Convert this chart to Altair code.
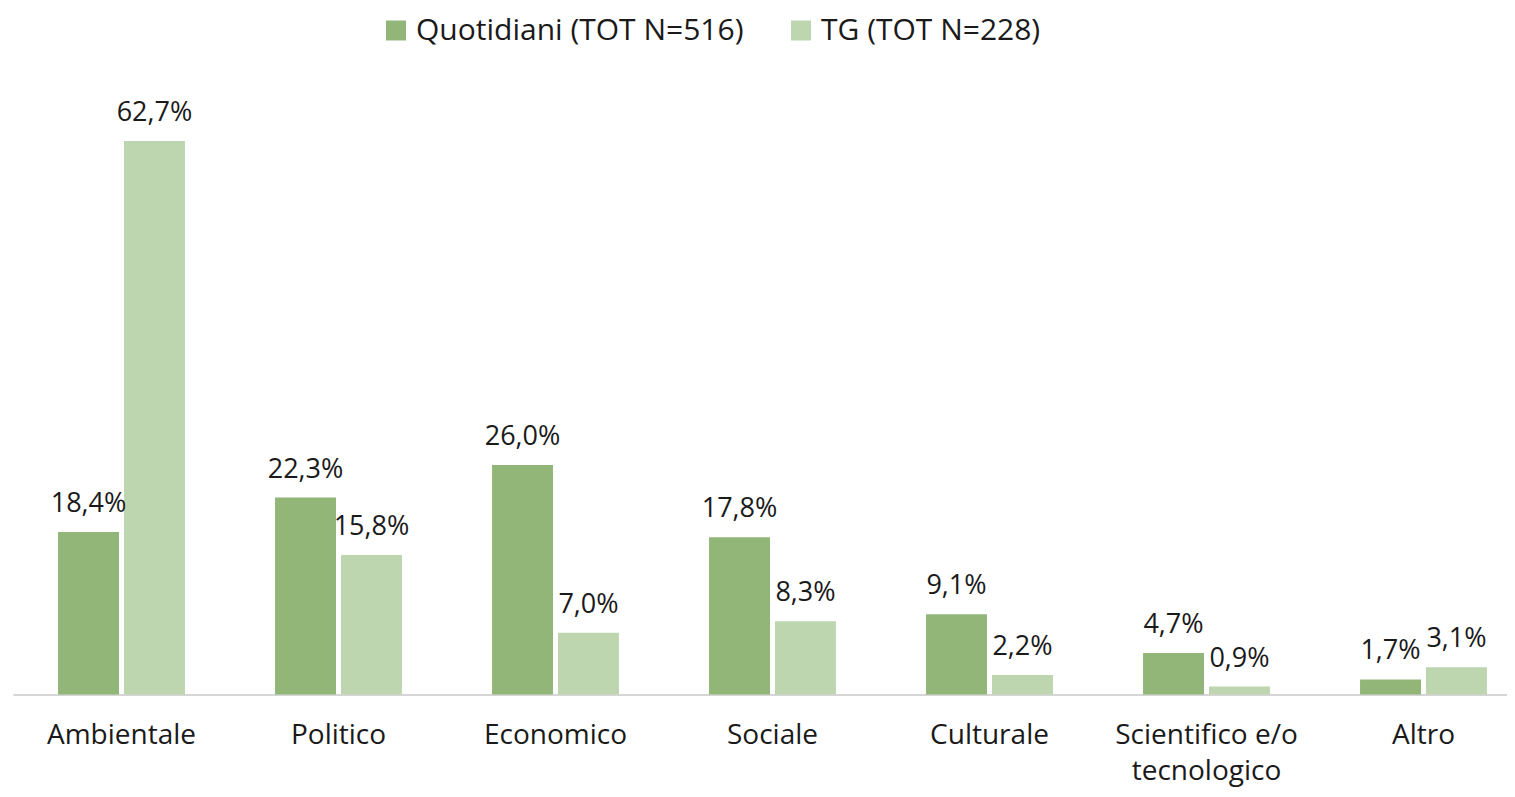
import altair as alt
import pandas as pd

categories = ["Ambientale", "Politico", "Economico", "Sociale", "Culturale",
              "Scientifico e/o tecnologico", "Altro"]
quotidiani = [18.4, 22.3, 26.0, 17.8, 9.1, 4.7, 1.7]
tg = [62.7, 15.8, 7.0, 8.3, 2.2, 0.9, 3.1]
series = ["Quotidiani (TOT N=516)", "TG (TOT N=228)"]
colors = ["#92B678", "#BDD6B0"]

rows = []
for c, q, t in zip(categories, quotidiani, tg):
    rows.append(dict(cat=c, serie=series[0], val=q))
    rows.append(dict(cat=c, serie=series[1], val=t))
df = pd.DataFrame(rows)
df["label"] = df["val"].map(lambda v: f"{v:.1f}".replace(".", ",") + "%")

FONT = "Open Sans"

x = alt.X(
    "cat:N", sort=categories,
    scale=alt.Scale(range=[0, 1519], paddingInner=0.415, paddingOuter=0.2075),
    axis=alt.Axis(
        title=None, labelAngle=0, ticks=False, domainColor="#C8C8C8", domainWidth=1.5,
        labelFontSize=28, labelFont=FONT, labelColor="#1a1a1a", labelPadding=27,
        labelLineHeight=36, labelLimit=0,
        labelExpr="datum.label == 'Scientifico e/o tecnologico' ? ['Scientifico e/o', 'tecnologico'] : datum.label",
    ),
)
y = alt.Y("val:Q", scale=alt.Scale(domain=[0, 70]), axis=None)
xo = alt.XOffset("serie:N", sort=series, scale=alt.Scale(paddingInner=0.076, paddingOuter=0))

bars = alt.Chart(df).mark_bar().encode(
    x=x, y=y, xOffset=xo,
    color=alt.Color(
        "serie:N", sort=series, scale=alt.Scale(domain=series, range=colors),
        legend=alt.Legend(
            title=None, orient="none", legendX=368, legendY=-61, direction="horizontal",
            symbolType="square", symbolSize=400, symbolStrokeWidth=0,
            labelFontSize=30, labelFont=FONT, labelColor="#1a1a1a", labelLimit=0,
            columnPadding=42, labelOffset=5,
        ),
    ),
)
text = alt.Chart(df).mark_text(
    dy=-20, baseline="alphabetic", fontSize=27, font=FONT, color="#1a1a1a"
).encode(x=x, y=y, xOffset=xo, text="label:N")

chart = alt.layer(bars, text).properties(
    width=1494, height=618,
    autosize=alt.AutoSizeParams(type="none"),
    padding={"left": 5, "top": 68.5, "right": 0, "bottom": 94},
).configure_view(stroke=None)

chart.save("out.html", embed_options={"renderer": "svg", "actions": False})
